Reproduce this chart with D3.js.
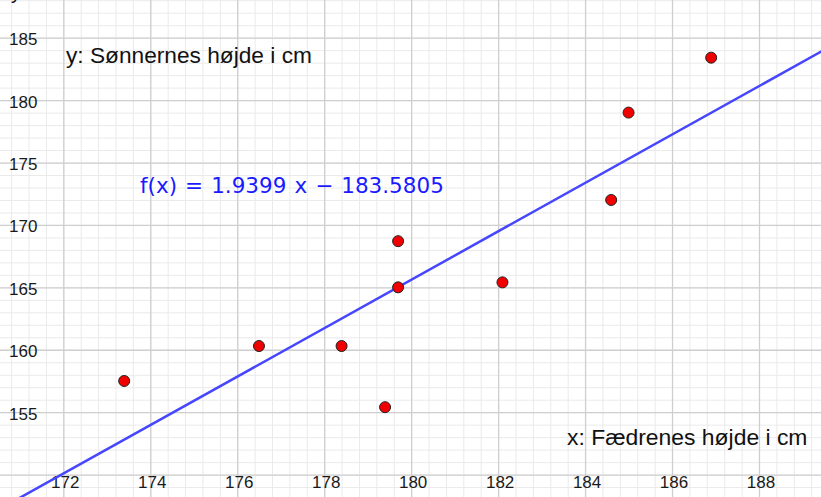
<!DOCTYPE html>
<html>
<head>
<meta charset="utf-8">
<script src="https://cdn.jsdelivr.net/npm/d3@7"></script>
<style>
  html, body { margin: 0; padding: 0; background: #ffffff; }
  svg { display: block; }
</style>
</head>
<body>
<svg id="chart" width="821" height="497"></svg>
<script>
// ---- data ----
const fathers = [173.4, 176.5, 178.4, 179.4, 179.7, 179.7, 182.1, 184.6, 185.0, 186.9];
const sons    = [157.5, 160.3, 160.3, 155.4, 168.7, 165.0, 165.4, 172.0, 179.0, 183.4];
const xTickLabels = [172, 174, 176, 178, 180, 182, 184, 186, 188];
const yTickLabels = [155, 160, 165, 170, 175, 180, 185];
const slope = 1.9399, intercept = -183.5805;
const formulaText = "f(x) = 1.9399 x \u2212 183.5805";
const xTitle = "x: Fædrenes højde i cm";
const yTitle = "y: Sønnernes højde i cm";

// ---- layout ----
const W = 821, H = 497;
const svg = d3.select("#chart");
const x = d3.scaleLinear().domain([172, 188]).range([63.3, 759]);
const y = d3.scaleLinear().domain([150, 185]).range([474.6, 37.7]);
const xMin = x.invert(0), xMax = x.invert(W);
const yMin = y.invert(H), yMax = y.invert(0);

const minorX = d3.range(Math.ceil(xMin / 0.4) * 0.4, xMax, 0.4);
const minorY = d3.range(Math.ceil(yMin), yMax, 1);
const majorX = d3.range(Math.ceil(xMin / 2) * 2, xMax, 2);
const majorY = d3.range(Math.ceil(yMin / 5) * 5, yMax, 5);

function gridX(vals, color, width) {
  const g = svg.append("g").attr("transform", `translate(0,${H})`)
    .call(d3.axisBottom(x).tickValues(vals).tickSize(-H).tickFormat(""));
  g.select(".domain").remove();
  g.selectAll("line").attr("stroke", color).attr("stroke-width", width);
}
function gridY(vals, color, width) {
  const g = svg.append("g").attr("transform", `translate(0,0)`)
    .call(d3.axisLeft(y).tickValues(vals).tickSize(-W).tickFormat(""));
  g.select(".domain").remove();
  g.selectAll("line").attr("stroke", color).attr("stroke-width", width);
}
gridX(minorX, "#eaeaea", 1);
gridY(minorY, "#eaeaea", 1);
gridX(majorX, "#cfcfcf", 1.3);
gridY(majorY, "#cfcfcf", 1.3);

// tick labels
const xa = svg.append("g").attr("transform", `translate(1.5,${y(150)})`)
  .call(d3.axisBottom(x).tickValues(xTickLabels).tickSize(0).tickPadding(0).tickFormat(d3.format("d")));
xa.select(".domain").remove();
xa.selectAll("text").attr("dy", null).attr("y", 13)
  .attr("font-family", "Liberation Sans, Arial, sans-serif").attr("font-size", 17).attr("fill", "#1a1a1a");

const ya = svg.append("g").attr("transform", `translate(0,0)`)
  .call(d3.axisRight(y).tickValues(yTickLabels).tickSize(0).tickPadding(0).tickFormat(d3.format("d")));
ya.select(".domain").remove();
ya.selectAll("text").attr("x", 9).attr("dy", null).attr("y", 7)
  .attr("font-family", "Liberation Sans, Arial, sans-serif").attr("font-size", 17).attr("fill", "#1a1a1a");

// regression line
const line = d3.line().x(d => x(d)).y(d => y(slope * d + intercept));
svg.append("path").datum([xMin - 1, xMax + 1]).attr("d", line)
  .attr("fill", "none").attr("stroke", "#4646ff").attr("stroke-width", 2.5);

// points
svg.append("g").selectAll("circle").data(fathers.map((f, i) => [f, sons[i]]))
  .join("circle")
  .attr("cx", d => x(d[0])).attr("cy", d => y(d[1])).attr("r", 5.5)
  .attr("fill", "#f00000").attr("stroke", "#222").attr("stroke-width", 1);

// texts
svg.append("text").attr("x", 66).attr("y", 63).text(yTitle)
  .attr("font-family", "Liberation Sans, Arial, sans-serif").attr("font-size", 22.7).attr("fill", "#111");
svg.append("text").attr("x", 567).attr("y", 444.5).text(xTitle)
  .attr("font-family", "Liberation Sans, Arial, sans-serif").attr("font-size", 22.9).attr("fill", "#111");
svg.append("text").attr("x", 140).attr("y", 192.5).text(formulaText)
  .attr("font-family", "DejaVu Sans, sans-serif").attr("font-size", 21.5).attr("word-spacing", 1.2)
  .attr("fill", "#1a1aff");
svg.append("text").attr("x", 11).attr("y", -1).text("y")
  .attr("font-family", "Liberation Sans, Arial, sans-serif").attr("font-size", 20).attr("fill", "#111");
</script>
</body>
</html>
